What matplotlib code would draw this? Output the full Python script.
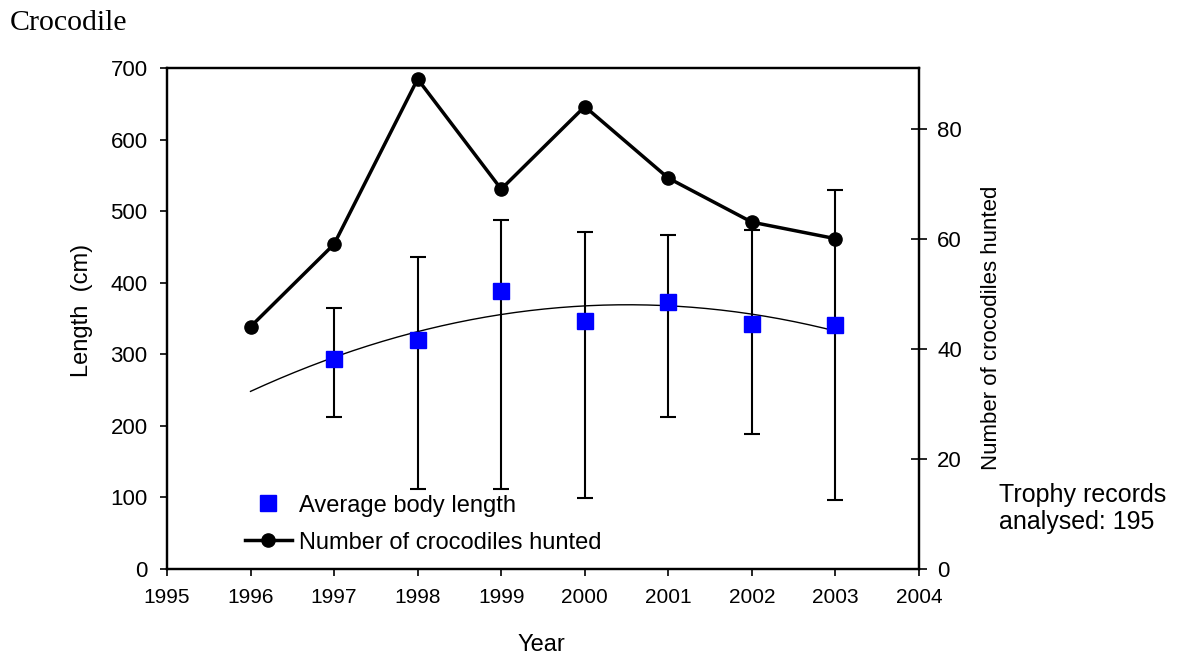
import numpy as np
import matplotlib
matplotlib.use("Agg")
import matplotlib.pyplot as plt
from matplotlib.lines import Line2D

# ---- data ----
count_years = [1996, 1997, 1998, 1999, 2000, 2001, 2002, 2003]
crocodiles_hunted = [44, 59, 89, 69, 84, 71, 63, 60]

length_years = [1997, 1998, 1999, 2000, 2001, 2002, 2003]
avg_length = [294, 320, 389, 347, 373, 343, 341]
length_upper = [365, 436, 487, 471, 467, 474, 530]
length_lower = [212, 112, 112, 99, 212, 189, 96]

trend_years = [1996, 2003]  # polynomial (order 2) trendline range

xticks = list(range(1995, 2005))
left_ticks = [0, 100, 200, 300, 400, 500, 600, 700]
right_ticks = [0, 20, 40, 60, 80]

# ---- figure ----
plt.rcParams['font.family'] = ['Liberation Sans', 'DejaVu Sans']
fig = plt.figure(figsize=(11.79, 6.59), dpi=100)
ax = fig.add_axes([0.1416, 0.1366, 0.6379, 0.7602])
ax2 = ax.twinx()

# error bars (min / max)
la = np.array(avg_length)
yerr = [la - np.array(length_lower), np.array(length_upper) - la]
ax.errorbar(length_years, avg_length, yerr=yerr, fmt='none', ecolor='black',
            elinewidth=1.5, capsize=6, capthick=1.5, zorder=2)

# polynomial trendline (order 2) of average lengths, forecast back to 1996
coef = np.polyfit(length_years, avg_length, 2)
tx = np.linspace(trend_years[0], trend_years[1], 200)
ax.plot(tx, np.polyval(coef, tx), color='black', lw=1.0, zorder=3)

# average body length squares
ax.plot(length_years, avg_length, linestyle='none', marker='s', markersize=12,
        color='#0000FF', zorder=4)

ax.set_xlim(1995, 2004)
ax.set_ylim(0, 700)
ax.set_xticks(xticks)
ax.set_yticks(left_ticks)
ax.tick_params(axis='x', direction='out', length=5, width=1.2, labelsize=15, pad=9)
ax.tick_params(axis='y', direction='out', length=5, width=1.2, labelsize=16, pad=9)
ax.set_ylabel('Length  (cm)', fontsize=17)
ax.yaxis.set_label_coords(-0.0984, 0.517)
ax.set_xlabel('Year', fontsize=17)
ax.xaxis.set_label_coords(0.498, -0.130)

# number hunted
ax2.plot(count_years, crocodiles_hunted, color='black', lw=2.5, marker='o',
         markersize=9.5, zorder=5)
ax2.set_ylim(0, 91)
ax2.set_yticks(right_ticks)
ax2.tick_params(axis='y', direction='inout', length=12, width=1.2, labelsize=16, pad=7)
ax2.set_ylabel('Number of crocodiles hunted', fontsize=16)
ax2.yaxis.set_label_coords(1.0824, 0.481)

for a in (ax, ax2):
    for s in a.spines.values():
        s.set_linewidth(1.6)

handles = [
    Line2D([], [], linestyle='none', marker='s', markersize=12, color='#0000FF'),
    Line2D([], [], color='black', lw=2.5, marker='o', markersize=9.5),
]
ax2.legend(handles, ['Average body length', 'Number of crocodiles hunted'],
           loc='lower left', bbox_to_anchor=(0.091, 0.012), frameon=False,
           fontsize=17, handlelength=2.0, handletextpad=0.3, labelspacing=0.63,
           borderaxespad=0)

fig.text(0.0085, 0.965, 'Crocodile', family=['Liberation Serif', 'DejaVu Serif'],
         fontsize=21.5, ha='left', va='center')
fig.text(0.847, 0.228, 'Trophy records\nanalysed: 195', fontsize=18,
         ha='left', va='center', linespacing=1.15)

fig.savefig('out.png', dpi=100)
